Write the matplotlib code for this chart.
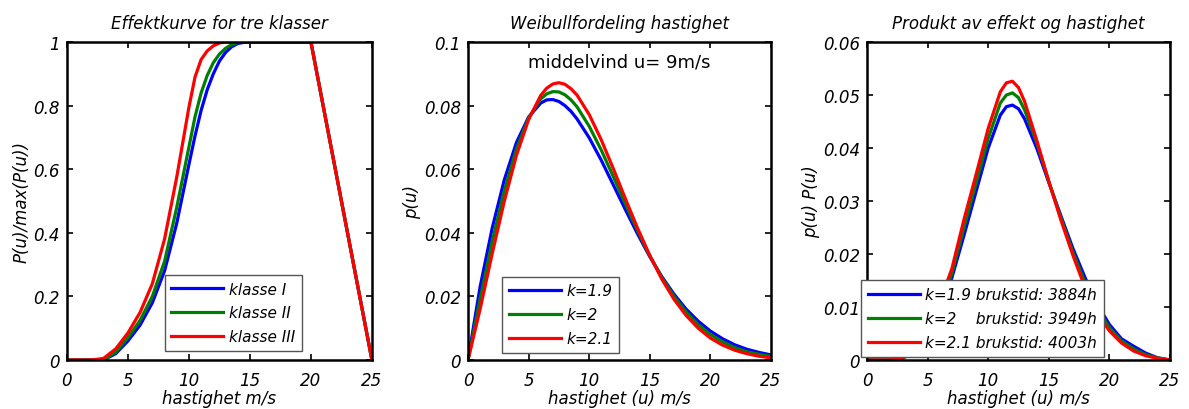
import numpy as np
import matplotlib
matplotlib.use("Agg")
import matplotlib.pyplot as plt
from matplotlib.ticker import FuncFormatter

# ==============================
# Data
# ==============================
# Effektkurve, normalisert P(u)/max(P(u))
u1 = [0, 1, 2, 3, 4, 5, 6, 7, 8, 9, 10, 10.5, 11, 11.5, 12, 12.5, 13, 13.5, 14, 14.5,
      15, 16, 17, 18, 19, 20, 21, 22, 23, 24, 25]
klasse_1 = [0, 0, 0, 0, 0.02, 0.06, 0.11, 0.18, 0.28, 0.43, 0.615, 0.705, 0.785, 0.85,
            0.9, 0.94, 0.967, 0.985, 0.995, 0.999, 1, 1, 1, 1, 1, 1, 0.8, 0.6, 0.4, 0.2, 0]
klasse_2 = [0, 0, 0, 0, 0.025, 0.07, 0.125, 0.2, 0.31, 0.48, 0.67, 0.765, 0.84, 0.895,
            0.935, 0.962, 0.98, 0.992, 0.998, 1, 1, 1, 1, 1, 1, 1, 0.8, 0.6, 0.4, 0.2, 0]
klasse_3 = [0, 0, 0, 0.005, 0.035, 0.085, 0.15, 0.24, 0.38, 0.575, 0.795, 0.89, 0.945,
            0.972, 0.988, 0.997, 1, 1, 1, 1, 1, 1, 1, 1, 1, 1, 0.8, 0.6, 0.4, 0.2, 0]
klasse_labels = ['klasse I', 'klasse II', 'klasse III']

# Weibullfordeling, middelvind 9 m/s
u2 = [0, 1, 2, 3, 4, 5, 6, 6.5, 7, 7.5, 8, 8.5, 9, 10, 11, 12, 13, 14, 15, 16, 17, 18,
      19, 20, 21, 22, 23, 24, 25]
weib_19 = [0, 0.0230, 0.0415, 0.0567, 0.0684, 0.0764, 0.0808, 0.0818, 0.0819, 0.0813,
           0.0800, 0.0782, 0.0758, 0.0699, 0.0628, 0.0550, 0.0472, 0.0396, 0.0325,
           0.0262, 0.0207, 0.0160, 0.0122, 0.0091, 0.0067, 0.0048, 0.0034, 0.0024, 0.0016]
weib_20 = [0, 0.0192, 0.0373, 0.0533, 0.0664, 0.0761, 0.0821, 0.0837, 0.0844, 0.0843,
           0.0834, 0.0818, 0.0796, 0.0735, 0.0660, 0.0576, 0.0490, 0.0406, 0.0328,
           0.0259, 0.0200, 0.0151, 0.0111, 0.0080, 0.0057, 0.0039, 0.0026, 0.0018, 0.0011]
weib_21 = [0, 0.0160, 0.0335, 0.0500, 0.0644, 0.0756, 0.0832, 0.0855, 0.0868, 0.0872,
           0.0867, 0.0853, 0.0833, 0.0772, 0.0692, 0.0601, 0.0506, 0.0414, 0.0329,
           0.0254, 0.0191, 0.0140, 0.0100, 0.0069, 0.0047, 0.0031, 0.0020, 0.0012, 0.0007]
weib_labels = ['k=1.9', 'k=2', 'k=2.1']

# Produkt av effekt og hastighet
u3 = [0, 1, 2, 3, 4, 5, 6, 7, 8, 9, 10, 11, 11.5, 12, 12.5, 13, 14, 15, 16, 17, 18,
      19, 20, 21, 22, 23, 24, 25]
prod_19 = [0, 0, 0, 0.0004, 0.0017, 0.0045, 0.0095, 0.0155, 0.0235, 0.0318, 0.0400,
           0.0462, 0.0478, 0.0481, 0.0474, 0.0455, 0.0400, 0.0335, 0.0272, 0.0210,
           0.0155, 0.0105, 0.0067, 0.0040, 0.0026, 0.0013, 0.0004, 0]
prod_20 = [0, 0, 0, 0.0004, 0.0018, 0.0050, 0.0102, 0.0163, 0.0250, 0.0334, 0.0418,
           0.0485, 0.0500, 0.0504, 0.0495, 0.0472, 0.0410, 0.0337, 0.0268, 0.0203,
           0.0145, 0.0097, 0.0061, 0.0036, 0.0021, 0.0010, 0.0004, 0]
prod_21 = [0, 0, 0, 0.0005, 0.0020, 0.0055, 0.0110, 0.0172, 0.0265, 0.0350, 0.0437,
           0.0506, 0.0523, 0.0526, 0.0514, 0.0488, 0.0415, 0.0337, 0.0264, 0.0197,
           0.0136, 0.0088, 0.0055, 0.0032, 0.0017, 0.0008, 0.0003, 0]
prod_labels = ['k=1.9 brukstid: 3884h', 'k=2    brukstid: 3949h', 'k=2.1 brukstid: 4003h']

colors = ['#0000ff', '#008000', '#ff0000']

# ==============================
# Figur
# ==============================
plt.rcParams['font.family'] = 'DejaVu Sans'
plt.rcParams['font.style'] = 'italic'

fig = plt.figure(figsize=(11.89, 4.10), dpi=100)
ax1 = fig.add_axes([0.0563, 0.1195, 0.2565, 0.7756])
ax2 = fig.add_axes([0.3936, 0.1195, 0.2548, 0.7756])
ax3 = fig.add_axes([0.7292, 0.1195, 0.2548, 0.7756])

fmt = FuncFormatter(lambda v, pos: '%g' % round(v, 6))
leg_kw = dict(loc='lower left', fontsize=11, handlelength=3.4, handletextpad=0.35,
              labelspacing=0.58, borderpad=0.45, borderaxespad=0, fancybox=False,
              framealpha=1, edgecolor='#555555')


def style_axes(ax, ylim, yticks):
    ax.set_xlim(0, 25)
    ax.set_ylim(*ylim)
    ax.set_xticks([0, 5, 10, 15, 20, 25])
    ax.set_yticks(yticks)
    ax.yaxis.set_major_formatter(fmt)
    ax.tick_params(direction='in', top=True, right=True, length=4, width=1.2,
                   labelsize=12, pad=5)
    ax.tick_params(axis='x', pad=8)
    for s in ax.spines.values():
        s.set_linewidth(1.8)


# 1. Effektkurve
for y, c, lab in zip([klasse_1, klasse_2, klasse_3], colors, klasse_labels):
    ax1.plot(u1, y, color=c, lw=2.3, label=lab)
style_axes(ax1, (0, 1), [0, 0.2, 0.4, 0.6, 0.8, 1])
ax1.set_title('Effektkurve for tre klasser', fontsize=12, pad=10)
ax1.set_xlabel('hastighet m/s', fontsize=12, labelpad=0)
ax1.set_ylabel('P(u)/max(P(u))', fontsize=12, labelpad=2)
ax1.legend(bbox_to_anchor=(0.32, 0.028), **leg_kw)

# 2. Weibullfordeling
for y, c, lab in zip([weib_19, weib_20, weib_21], colors, weib_labels):
    ax2.plot(u2, y, color=c, lw=2.3, label=lab)
style_axes(ax2, (0, 0.1), [0, 0.02, 0.04, 0.06, 0.08, 0.1])
ax2.set_title('Weibullfordeling hastighet', fontsize=12, pad=10)
ax2.set_xlabel('hastighet (u) m/s', fontsize=12, labelpad=0)
ax2.set_ylabel('p(u)', fontsize=12, labelpad=2)
ax2.text(0.5, 0.94, 'middelvind u= 9m/s', transform=ax2.transAxes, ha='center',
         va='center', fontsize=13, style='normal')
ax2.legend(bbox_to_anchor=(0.112, 0.022), **leg_kw)

# 3. Produkt
for y, c, lab in zip([prod_19, prod_20, prod_21], colors, prod_labels):
    ax3.plot(u3, y, color=c, lw=2.3, label=lab)
style_axes(ax3, (0, 0.06), [0, 0.01, 0.02, 0.03, 0.04, 0.05, 0.06])
ax3.set_title('Produkt av effekt og hastighet', fontsize=12, pad=10)
ax3.set_xlabel('hastighet (u) m/s', fontsize=12, labelpad=0)
ax3.set_ylabel('p(u) P(u)', fontsize=12, labelpad=2)
ax3.legend(bbox_to_anchor=(-0.02, 0.01), **leg_kw)

fig.savefig('out.png', dpi=100)
